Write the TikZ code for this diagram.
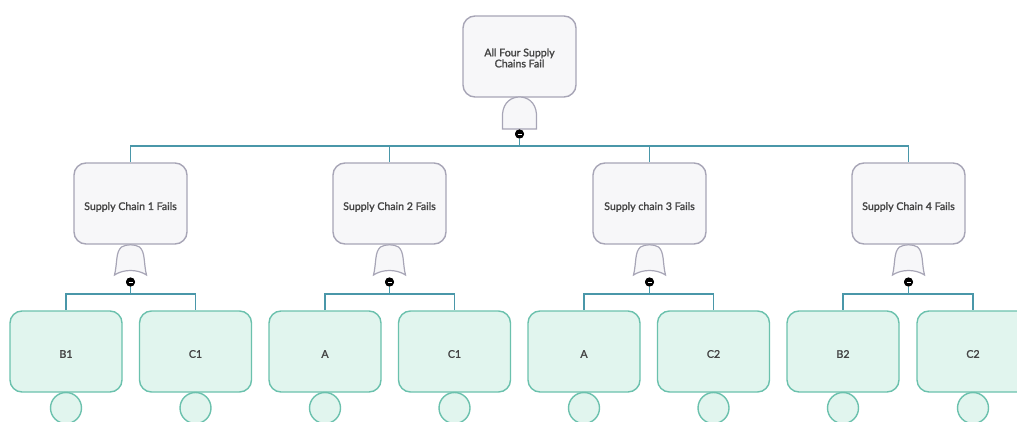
\documentclass[tikz,border=0pt]{standalone}
\usepackage{fontspec}
\setmainfont{Lato}
\newfontfamily\lblfont[FakeBold=1.6]{Lato}
\definecolor{evbord}{HTML}{A7A5B6}
\definecolor{evfill}{HTML}{F7F7F9}
\definecolor{lfbord}{HTML}{6BC1AD}
\definecolor{lffill}{HTML}{E1F5EE}
\definecolor{wire}{HTML}{4A97A9}
\definecolor{txt}{HTML}{444444}
\begin{document}
\begin{tikzpicture}[x=1pt,y=-1pt,
  event/.style={draw=evbord,fill=evfill,line width=1.4pt,rounded corners=12pt,
    minimum width=113pt,minimum height=81pt,inner sep=0pt},
  leaf/.style={draw=lfbord,fill=lffill,line width=1.4pt,rounded corners=12pt,
    minimum width=112pt,minimum height=81pt,inner sep=0pt},
  lbl/.style={inner sep=0pt,align=center,text=txt,
    font=\lblfont\fontsize{10.6}{11}\selectfont},
  basic/.style={draw=lfbord,fill=lffill,line width=1.4pt,circle,minimum size=31pt,inner sep=0pt},
  gatefill/.style={draw=evbord,fill=evfill,line width=1.2pt},
  wire/.style={draw=wire,line width=1.3pt},
  dot/.style={circle,fill=black,minimum size=9pt,inner sep=0pt}]
\useasboundingbox (0,0) rectangle (1017,422);
\clip (0,0) rectangle (1017,422);

% gate drawings
\newcommand{\andgate}[2]{%
  \path[gatefill] (#1-17,#2+32) -- (#1-17,#2+17) .. controls (#1-16,#2+5) and (#1-8,#2) .. (#1,#2)
    .. controls (#1+8,#2) and (#1+16,#2+5) .. (#1+17,#2+17) -- (#1+17,#2+32) -- cycle;}
\newcommand{\orgate}[2]{%
  \path[gatefill] (#1-16,#2+30) .. controls (#1-13,#2+18) and (#1-15,#2+7) .. (#1-9,#2+2)
    .. controls (#1-4,#2-1) and (#1+4,#2-1) .. (#1+9,#2+2)
    .. controls (#1+15,#2+7) and (#1+13,#2+18) .. (#1+16,#2+30)
    .. controls (#1+7,#2+24) and (#1-7,#2+24) .. (#1-16,#2+30) -- cycle;}

% top event
\node[event] (top) at (519.5,56.5) {};
\node[lbl] (topt) at ([yshift=-1.5pt]top.center) {All Four Supply\\Chains Fail};
\andgate{519.5}{97}
\node[dot] (g0) at (519.5,134) {};

% intermediate events
\foreach \i/\x/\t in {1/130.5/Supply Chain 1 Fails,2/389.5/Supply Chain 2 Fails,
                      3/649.5/Supply chain 3 Fails,4/908.5/Supply Chain 4 Fails}{
  \node[event] (s\i) at (\x,203.5) {};
  \node[lbl] (s\i t) at ([yshift=-3.5pt]s\i.center) {\t};
  \orgate{\x}{245}
  \node[dot] (g\i) at (\x,282) {};
}

% basic events
\foreach \n/\x/\t in {b1/66/B1,c1/195.5/C1,a1/325/A,c2/454.5/C1,a2/584/A,c3/713.5/C2,b2/843/B2,c4/973/C2}{
  \node[leaf] (\n) at (\x,351.5) {};
  \node[lbl] (\n t) at ([yshift=-2.5pt]\n.center) {\t};
  \node[basic] (\n o) at (\x,408) {};
}

% connectors
\foreach \c in {s1,s2,s3,s4}
  \draw[wire] (g0.south) |- (g0 |- 0,146) -| (\c.north);
\foreach \g/\l/\r in {g1/b1/c1,g2/a1/c2,g3/a2/c3,g4/b2/c4}{
  \draw[wire] (\g.south) |- (\g |- 0,294) -| (\l.north);
  \draw[wire] (\g |- 0,294) -| (\r.north);
}

% dots with minus marks on top of the wires
\foreach \g in {g0,g1,g2,g3,g4}{
  \node[dot] at (\g) {};
  \draw[white,line width=0.8pt] ([xshift=-2pt]\g.center) -- ([xshift=2pt]\g.center);
}
\end{tikzpicture}
\end{document}
